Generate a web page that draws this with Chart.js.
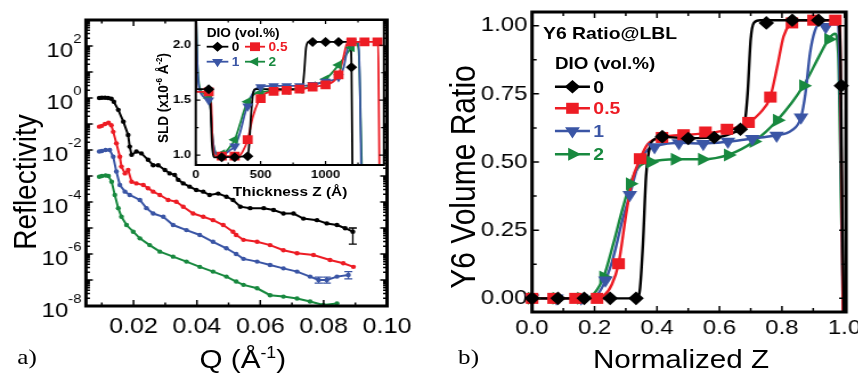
<!DOCTYPE html>
<html><head><meta charset="utf-8">
<script src="https://cdn.jsdelivr.net/npm/chart.js@4.4.1/dist/chart.umd.min.js"></script>
<style>
html,body{margin:0;padding:0;background:#fff;overflow:hidden;width:858px;height:375px;}
#wrap{position:absolute;left:0;top:0;width:753px;height:375px;transform:scaleX(1.14);transform-origin:0 0;}
canvas{position:absolute;left:0;top:0;}
.t{position:absolute;white-space:nowrap;line-height:1;font-family:"Liberation Sans",Arial,sans-serif;color:#000;}
.c{transform:translate(-50%,-50%);}
.r{transform:translate(-50%,-50%) rotate(-90deg);}
.l{transform:translate(0,-50%);}
.b{font-weight:bold;}
.s{font-family:"Liberation Serif","Times New Roman",serif;}
sup{font-size:60%;vertical-align:super;line-height:0;}
</style></head>
<body><div id="wrap">
<canvas id="cMain" width="753" height="375"></canvas>
<canvas id="cInset" width="753" height="375"></canvas>
<canvas id="cRight" width="753" height="375"></canvas>
<svg id="lg" width="753" height="375" style="position:absolute;left:0;top:0;overflow:visible"></svg>
<div class="t r" style="left:22.6px;top:182px;font-size:28px">Reflectivity</div>
<div class="t c" style="left:213px;top:359px;font-size:26px">Q (Å<sup>-1</sup>)</div>
<div class="t c s" style="left:23.7px;top:357px;font-size:22px">a)</div>
<div class="t r" style="left:407px;top:177px;font-size:30px">Y6 Volume Ratio</div>
<div class="t c" style="left:597.4px;top:359px;font-size:26px">Normalized Z</div>
<div class="t c s" style="left:411px;top:357px;font-size:22px">b)</div>
<div class="t r b" style="left:143px;top:98px;font-size:13.5px">SLD (x10<sup>-6</sup> Å<sup>-2</sup>)</div>
<div class="t c b" style="left:254.4px;top:192px;font-size:13.5px">Thickness Z (Å)</div>
<div class="t l b" style="left:181.3px;top:33.3px;font-size:12px">DIO (vol.%)</div>
<div class="t l b" style="left:476.3px;top:33px;font-size:17px">Y6 Ratio@LBL</div>
<div class="t l b" style="left:486.8px;top:63.3px;font-size:16.5px">DIO (vol.%)</div>
</div>
<script>
// ---------------- DATA ----------------
const seriesNames = ['0', '0.5', '1', '2'];
const seriesColors = ['#000000', '#ED1C24', '#3A55A5', '#18893F'];

// (a) reflectivity curves: Q (1/Å) and reflectivity
const qBlack = [0.0092,0.0100,0.0110,0.0120,0.0130,0.0138,0.0152,0.0168,0.0183,0.0188,0.0194,0.0209,0.0225,0.0246,0.0262,0.0278,0.0299,0.0314,0.0330,0.0341,0.0357,0.0377,0.0398,0.0420,0.0440,0.0467,0.0493,0.0514,0.0537,0.0568,0.0611,0.0642,0.0673,0.0705,0.0736,0.0779,0.0810,0.0842,0.0868,0.0892];
const rBlack = [1.0,1.02,1.02,1.0,0.93,0.72,0.35,0.123,0.038,0.0135,0.0065,0.0087,0.0074,0.0042,0.0026,0.0026,0.0017,0.00126,0.0011,0.00071,0.00052,0.00039,0.00029,0.00025,0.000186,0.00021,0.00016,0.00012,6.6e-5,5.8e-5,5.8e-5,4.9e-5,3.6e-5,3.6e-5,2.3e-5,2.0e-5,1.5e-5,1.3e-5,9.8e-6,7.2e-6];
const qRed = [0.0092,0.0100,0.0110,0.0121,0.0130,0.0136,0.0146,0.0157,0.0162,0.0173,0.0183,0.0194,0.0209,0.0231,0.0246,0.0262,0.0283,0.0309,0.0335,0.0357,0.0388,0.0420,0.0451,0.0483,0.0514,0.0524,0.0547,0.0590,0.0631,0.0673,0.0716,0.0768,0.0820,0.0862,0.0894];
const rRed = [0.079,0.085,0.10,0.112,0.09,0.05,0.018,0.0055,0.0023,0.00126,0.0017,0.0006,0.00052,0.00045,0.00034,0.00025,0.000186,0.00012,0.000102,6.6e-5,3.6e-5,2.7e-5,2.0e-5,1.3e-5,7.2e-6,5.4e-6,3.5e-6,2.95e-6,2.2e-6,1.4e-6,1.07e-6,9.1e-7,5.9e-7,4.4e-7,3.2e-7];
const qBlue = [0.0092,0.0100,0.0112,0.0125,0.0136,0.0146,0.0157,0.0173,0.0188,0.0220,0.0241,0.0262,0.0294,0.0325,0.0367,0.0409,0.0451,0.0493,0.0524,0.0547,0.0590,0.0631,0.0673,0.0716,0.0757,0.0784,0.0810,0.0842,0.0878];
const rBlue = [0.0087,0.0092,0.0100,0.0100,0.0055,0.00148,0.00045,0.00025,0.000186,0.00012,5.8e-5,3.6e-5,2.7e-5,1.3e-5,8.3e-6,5.4e-6,2.95e-6,1.66e-6,1.0e-6,6.5e-7,5.1e-7,3.8e-7,2.8e-7,2.1e-7,1.35e-7,1.0e-7,1.0e-7,1.35e-7,1.55e-7];
const qGreen = [0.0092,0.0100,0.0112,0.0121,0.0131,0.0141,0.0152,0.0162,0.0178,0.0199,0.0220,0.0251,0.0283,0.0325,0.0367,0.0409,0.0451,0.0493,0.0524,0.0547,0.0590,0.0631,0.0673,0.0716,0.0757,0.0799,0.0842];
const rGreen = [0.00093,0.0010,0.00105,0.0010,0.0006,0.000186,5.8e-5,2.7e-5,1.3e-5,7.2e-6,4.0e-6,2.2e-6,1.23e-6,7.9e-7,5.1e-7,3.2e-7,2.1e-7,1.35e-7,8.7e-8,6.5e-8,4.8e-8,2.6e-8,2.3e-8,1.95e-8,1.48e-8,1.1e-8,1.26e-8];
// error bars: series index, Q, low, high
const errSeries = [0, 2, 2, 2];
const errQ = [0.0892, 0.0784, 0.0810, 0.0878];
const errLo = [2.4e-6, 7.6e-8, 7.6e-8, 1.1e-7];
const errHi = [1.0e-5, 1.3e-7, 1.3e-7, 2.1e-7];
const qTicks = [0.02, 0.04, 0.06, 0.08, 0.10];
const qTickLabels = ['0.02', '0.04', '0.06', '0.08', '0.10'];
const rTickExps = [-8, -6, -4, -2, 0, 2];

// inset: SLD profiles, thickness (Å) and SLD (x1e-6 Å^-2)
const tBlackLine = [0,2,100,112,125,140,400,412,425,440,455,500,820,835,850,870,1190,1200,1207];
const sBlackLine = [2.4,1.6,1.6,1.5,1.1,0.98,0.99,1.1,1.35,1.55,1.6,1.6,1.6,1.75,1.98,2.03,2.03,1.8,0.85];
const tRedLine = [0,2,110,120,130,145,160,330,360,400,440,480,520,600,800,900,1000,1060,1100,1130,1160,1180,1405,1410,1415];
const sRedLine = [2.4,1.575,1.575,1.45,1.1,1.0,0.99,0.99,1.03,1.14,1.35,1.48,1.55,1.58,1.6,1.62,1.64,1.67,1.73,1.85,2.0,2.03,2.03,1.5,0.85];
const tBlueLine = [0,15,40,100,115,130,150,170,220,270,300,340,380,420,460,500,600,800,900,1000,1100,1140,1170,1200,1255,1265,1275];
const sBlueLine = [2.4,1.75,1.56,1.5,1.42,1.15,1.02,1.0,1.01,1.05,1.08,1.2,1.38,1.52,1.6,1.62,1.63,1.63,1.64,1.67,1.71,1.8,1.97,2.03,2.03,1.6,0.85];
const tGreenLine = [0,12,35,100,115,130,150,170,220,260,300,340,380,420,460,500,600,800,900,1000,1100,1150,1200,1235,1255,1265,1280];
const sGreenLine = [2.4,1.85,1.6,1.52,1.42,1.15,1.03,1.01,1.02,1.07,1.14,1.28,1.43,1.52,1.56,1.57,1.59,1.6,1.63,1.69,1.82,1.9,1.98,2.02,1.95,1.6,0.85];
const tBlackPts = [100,200,300,400,900,1000,1100,1200];
const sBlackPts = [1.6,0.98,0.98,0.99,2.03,2.03,2.03,1.8];
const tRedPts = [100,200,300,400,500,600,700,800,900,1000,1100,1200,1300,1400];
const sRedPts = [1.575,0.99,0.99,1.14,1.515,1.58,1.59,1.6,1.62,1.64,1.73,2.03,2.03,2.03];
const tBluePts = [100,200,300,400,500,600,700,800,900,1000,1100,1200];
const sBluePts = [1.5,1.0,1.08,1.445,1.62,1.63,1.63,1.63,1.64,1.67,1.71,2.03];
const tGreenPts = [100,200,300,400,500,600,700,800,900,1000,1100,1200];
const sGreenPts = [1.52,1.01,1.14,1.485,1.57,1.59,1.59,1.6,1.63,1.69,1.82,1.98];
const tTicks = [0, 500, 1000];
const tTickLabels = ['0', '500', '1000'];
const sldTicks = [1.0, 1.5, 2.0];
const sldTickLabels = ['1.0', '1.5', '2.0'];

// (b) Y6 volume ratio vs normalized Z
const zBlackLine = [0,0.335,0.345,0.355,0.365,0.378,0.395,0.42,0.5,0.6,0.66,0.68,0.69,0.70,0.71,0.73,0.98,0.988,0.993,0.998];
const vBlackLine = [0,0,0.03,0.2,0.45,0.56,0.585,0.592,0.587,0.592,0.615,0.64,0.75,0.95,1.01,1.02,1.02,0.85,0.3,-0.05];
const zRedLine = [0,0.2,0.23,0.255,0.277,0.3,0.32,0.346,0.37,0.416,0.5,0.6,0.693,0.73,0.763,0.785,0.805,0.825,0.85,0.985,0.99,0.995];
const vRedLine = [0,0,0.01,0.05,0.127,0.3,0.43,0.512,0.565,0.59,0.6,0.612,0.645,0.68,0.74,0.85,0.96,1.005,1.02,1.02,0.5,-0.05];
const zBlueLine = [0,0.18,0.21,0.235,0.26,0.29,0.313,0.34,0.37,0.4,0.47,0.55,0.63,0.7,0.78,0.83,0.861,0.875,0.89,0.905,0.92,0.98,0.988,0.995];
const vBlueLine = [0,0,0.015,0.066,0.15,0.29,0.38,0.49,0.545,0.56,0.57,0.568,0.575,0.585,0.598,0.615,0.664,0.75,0.9,0.98,1.005,1.005,0.6,-0.05];
const zGreenLine = [0,0.17,0.2,0.229,0.26,0.29,0.314,0.34,0.38,0.46,0.545,0.628,0.71,0.785,0.869,0.92,0.949,0.97,0.98,0.99,0.997];
const vGreenLine = [0,0,0.02,0.078,0.2,0.33,0.42,0.48,0.5,0.51,0.51,0.526,0.575,0.653,0.78,0.89,0.95,0.97,0.9,0.3,-0.05];
const zBlackPts = [0,0.083,0.167,0.25,0.333,0.417,0.5,0.583,0.667,0.75,0.833,0.917,0.99];
const vBlackPts = [0,0,0,0,0,0.593,0.586,0.59,0.62,1.01,1.02,1.02,0.78];
const zRedPts = [0,0.069,0.139,0.208,0.277,0.346,0.416,0.485,0.555,0.624,0.693,0.763,0.832,0.901,0.971];
const vRedPts = [0,0,0,0,0.127,0.512,0.59,0.6,0.61,0.62,0.645,0.738,1.01,1.02,1.02];
const zBluePts = [0,0.078,0.157,0.235,0.313,0.392,0.47,0.548,0.627,0.705,0.783,0.861,0.94];
const vBluePts = [0,0,0,0.066,0.38,0.555,0.57,0.567,0.575,0.585,0.597,0.664,0.995];
const zGreenPts = [0,0.079,0.158,0.229,0.314,0.38,0.458,0.545,0.628,0.71,0.785,0.869,0.949];
const vGreenPts = [0,0,0,0.078,0.42,0.5,0.51,0.51,0.526,0.575,0.653,0.78,0.95];
const zTicks = [0, 0.2, 0.4, 0.6, 0.8, 1.0];
const zTickLabels = ['0.0', '0.2', '0.4', '0.6', '0.8', '1.0'];
const vTicks = [0, 0.25, 0.5, 0.75, 1.0];
const vTickLabels = ['0.00', '0.25', '0.50', '0.75', '1.00'];

// ---------------- HELPERS ----------------
const CW = 753, CH = 375;
const FAM = '"Liberation Sans", Arial, sans-serif';
const pts = (xs, ys) => xs.map((x, i) => ({x: x, y: ys[i]}));

function linScale(axis, min, max, ticks, labels, font, pad, size) {
  return {
    type: 'linear', min: min, max: max,
    grid: {display: false, drawTicks: false}, border: {display: false},
    afterBuildTicks: s => { s.ticks = ticks.map(v => ({value: v})); },
    ticks: {callback: (v, i) => labels[i], font: font, color: '#000', padding: pad, maxRotation: 0, autoSkip: false},
    afterFit: s => { if (axis === 'x') s.height = size; else s.width = size;
      s.paddingLeft = 0; s.paddingRight = 0; s.paddingTop = 0; s.paddingBottom = 0; }
  };
}
function pad(area, yW, xH) {
  return {left: area.l - yW, right: CW - area.r, top: area.t, bottom: CH - area.b - xH};
}
function framePlugin(cfg) {
  return {
    id: 'frame',
    beforeDatasetsDraw(chart) {
      if (!cfg.fill) return;
      const a = chart.chartArea, ctx = chart.ctx;
      ctx.save(); ctx.fillStyle = cfg.fill;
      ctx.fillRect(a.left, a.top, a.right - a.left, a.bottom - a.top); ctx.restore();
    },
    afterDraw(chart) {
      const a = chart.chartArea, ctx = chart.ctx, xs = chart.scales.x, ys = chart.scales.y;
      ctx.save(); ctx.strokeStyle = '#000'; ctx.lineWidth = cfg.tw;
      ctx.beginPath();
      const xt = (vals, len) => vals.forEach(v => { const p = xs.getPixelForValue(v);
        ctx.moveTo(p, a.bottom); ctx.lineTo(p, a.bottom - len); ctx.moveTo(p, a.top); ctx.lineTo(p, a.top + len); });
      const yt = (vals, len) => vals.forEach(v => { const p = ys.getPixelForValue(v);
        ctx.moveTo(a.left, p); ctx.lineTo(a.left + len, p); ctx.moveTo(a.right, p); ctx.lineTo(a.right - len, p); });
      xt(cfg.xMaj, cfg.maj); xt(cfg.xMin, cfg.min); yt(cfg.yMaj, cfg.maj); yt(cfg.yMin, cfg.min);
      ctx.stroke();
      ctx.lineWidth = cfg.lw;
      ctx.strokeRect(a.left, a.top, a.right - a.left, a.bottom - a.top);
      ctx.restore();
    }
  };
}
const baseOpts = (padding, scales, extra) => Object.assign({
  responsive: false, animation: false, devicePixelRatio: 1, events: [],
  layout: {padding: padding},
  plugins: {legend: {display: false}, tooltip: {enabled: false}},
  scales: scales
}, extra || {});

// ---------------- (a) MAIN ----------------
const aMain = {l: 75.4, r: 339.5, t: 20, b: 306};
const qData = [[qBlack, rBlack], [qRed, rRed], [qBlue, rBlue], [qGreen, rGreen]];
const logMaj = [], logMin = [];
for (let e = -8; e <= 3; e++) { logMaj.push(Math.pow(10, e)); if (e < 3) for (let m = 2; m <= 9; m++) logMin.push(m * Math.pow(10, e)); }
const logLabelPlugin = {
  id: 'logLabels',
  afterDraw(chart) {
    const ctx = chart.ctx, ys = chart.scales.y, a = chart.chartArea;
    ctx.save(); ctx.fillStyle = '#000'; ctx.textAlign = 'right'; ctx.textBaseline = 'alphabetic';
    rTickExps.forEach(e => {
      const py = ys.getPixelForValue(Math.pow(10, e));
      const sup = String(e);
      ctx.font = '13px ' + FAM;
      const sw = ctx.measureText(sup).width;
      const xr = a.left - 4;
      ctx.fillText(sup, xr, py - 3);
      ctx.font = '21px ' + FAM;
      ctx.fillText('10', xr - sw, py + 10.5);
    });
    ctx.restore();
  }
};
const errPlugin = {
  id: 'errBars',
  afterDatasetsDraw(chart) {
    const ctx = chart.ctx, xs = chart.scales.x, ys = chart.scales.y;
    ctx.save(); ctx.lineWidth = 1.3;
    errQ.forEach((q, i) => {
      const px = xs.getPixelForValue(q), p1 = ys.getPixelForValue(errLo[i]), p2 = ys.getPixelForValue(errHi[i]);
      ctx.strokeStyle = seriesColors[errSeries[i]];
      ctx.beginPath(); ctx.moveTo(px, p1); ctx.lineTo(px, p2);
      ctx.moveTo(px - 3.5, p1); ctx.lineTo(px + 3.5, p1); ctx.moveTo(px - 3.5, p2); ctx.lineTo(px + 3.5, p2);
      ctx.stroke();
    });
    ctx.restore();
  }
};
new Chart(document.getElementById('cMain'), {
  type: 'scatter',
  data: {datasets: qData.map((d, i) => ({
    data: pts(d[0], d[1]), showLine: true, borderColor: seriesColors[i], backgroundColor: seriesColors[i],
    borderWidth: 2, pointRadius: 2.2, pointBorderWidth: 0, pointStyle: 'circle'
  }))},
  options: baseOpts(pad(aMain, 50, 40), {
    x: linScale('x', 0.005, 0.1, qTicks, qTickLabels, {family: FAM, size: 22}, 8, 40),
    y: {type: 'logarithmic', min: 1e-8, max: 1e3, grid: {display: false, drawTicks: false}, border: {display: false},
        ticks: {display: false},
        afterFit: s => { s.width = 50; s.paddingTop = 0; s.paddingBottom = 0; }}
  }),
  plugins: [framePlugin({lw: 3, tw: 1.5, maj: 6, min: 3.5,
    xMaj: qTicks, xMin: [0.01, 0.03, 0.05, 0.07, 0.09], yMaj: logMaj, yMin: logMin}), logLabelPlugin, errPlugin]
});

// ---------------- INSET ----------------
const aIn = {l: 171.7, r: 336.8, t: 20, b: 165};
const inLines = [[tBlackLine, sBlackLine], [tRedLine, sRedLine], [tBlueLine, sBlueLine], [tGreenLine, sGreenLine]];
const inPts = [[tBlackPts, sBlackPts], [tRedPts, sRedPts], [tBluePts, sBluePts], [tGreenPts, sGreenPts]];
const inStyles = [['rectRot', 0, 5], ['rect', 0, 6.2], ['triangle', 180, 5.5], ['triangle', 270, 5.5]];
const boldSmall = {family: FAM, size: 11.5, weight: 'bold'};
new Chart(document.getElementById('cInset'), {
  type: 'scatter',
  data: {datasets: [
    ...inPts.map((d, i) => ({data: pts(d[0], d[1]), showLine: false, pointStyle: inStyles[i][0], pointRotation: inStyles[i][1],
      pointRadius: inStyles[i][2], backgroundColor: seriesColors[i], borderColor: seriesColors[i], pointBorderWidth: 0})),
    ...inLines.map((d, i) => ({data: pts(d[0], d[1]), showLine: true, pointRadius: 0, borderColor: seriesColors[i],
      borderWidth: 1.8, cubicInterpolationMode: 'monotone'}))
  ]},
  options: baseOpts(pad(aIn, 30, 20), {
    x: linScale('x', 0, 1450, tTicks, tTickLabels, boldSmall, 3, 20),
    y: linScale('y', 0.91, 2.23, sldTicks, sldTickLabels, boldSmall, 4, 30)
  }),
  plugins: [framePlugin({fill: '#fff', lw: 2, tw: 1.2, maj: 4, min: 2.5,
    xMaj: tTicks, xMin: [250, 750, 1250], yMaj: sldTicks, yMin: [1.25, 1.75]})]
});

// ---------------- (b) RIGHT ----------------
const aR = {l: 466.7, r: 742.1, t: 12, b: 312};
const zLines = [[zBlackLine, vBlackLine], [zRedLine, vRedLine], [zBlueLine, vBlueLine], [zGreenLine, vGreenLine]];
const zPts = [[zBlackPts, vBlackPts], [zRedPts, vRedPts], [zBluePts, vBluePts], [zGreenPts, vGreenPts]];
const rStyles = [['rectRot', 0, 6.8], ['rect', 0, 7.8], ['triangle', 180, 7.5], ['triangle', 90, 7.5]];
const big = {family: FAM, size: 21};
new Chart(document.getElementById('cRight'), {
  type: 'scatter',
  data: {datasets: [
    ...zPts.map((d, i) => ({data: pts(d[0], d[1]), showLine: false, pointStyle: rStyles[i][0], pointRotation: rStyles[i][1],
      pointRadius: rStyles[i][2], backgroundColor: seriesColors[i], borderColor: seriesColors[i], pointBorderWidth: 0, clip: false})),
    ...zLines.map((d, i) => ({data: pts(d[0], d[1]), showLine: true, pointRadius: 0, borderColor: seriesColors[i],
      borderWidth: 2.4, cubicInterpolationMode: 'monotone'}))
  ]},
  options: baseOpts(pad(aR, 60, 40), {
    x: linScale('x', 0, 1.005, zTicks, zTickLabels, big, 4, 40),
    y: linScale('y', -0.05, 1.05, vTicks, vTickLabels, big, 4, 60)
  }),
  plugins: [framePlugin({lw: 3, tw: 1.5, maj: 6, min: 4,
    xMaj: zTicks, xMin: [0.1, 0.3, 0.5, 0.7, 0.9], yMaj: vTicks, yMin: [0.125, 0.375, 0.625, 0.875]})]
});

// ---------------- LEGENDS (svg symbols + html text) ----------------
function shapePath(shape, cx, cy, r) {
  const s = Math.sin(Math.PI / 3) * r;
  if (shape === 'diamond') return `M${cx - r},${cy}L${cx},${cy - r}L${cx + r},${cy}L${cx},${cy + r}Z`;
  if (shape === 'square') { const h = r * Math.SQRT1_2; return `M${cx - h},${cy - h}h${2 * h}v${2 * h}h${-2 * h}Z`; }
  if (shape === 'down') return `M${cx},${cy + r}L${cx - s},${cy - r / 2}L${cx + s},${cy - r / 2}Z`;
  if (shape === 'right') return `M${cx + r},${cy}L${cx - r / 2},${cy - s}L${cx - r / 2},${cy + s}Z`;
  if (shape === 'left') return `M${cx - r},${cy}L${cx + r / 2},${cy - s}L${cx + r / 2},${cy + s}Z`;
}
const svg = document.getElementById('lg');
const wrap = document.getElementById('wrap');
let svgHtml = '';
function legendRow(x1, x2, y, shape, r, lw, color, label, fontSize) {
  svgHtml += `<line x1="${x1}" y1="${y}" x2="${x2}" y2="${y}" stroke="${color}" stroke-width="${lw}"/>`;
  svgHtml += `<path d="${shapePath(shape, (x1 + x2) / 2, y, r)}" fill="${color}"/>`;
  const d = document.createElement('div');
  d.className = 't l b';
  d.style.left = (x2 + 3) + 'px'; d.style.top = y + 'px'; d.style.fontSize = fontSize + 'px'; d.style.color = color;
  d.textContent = label;
  wrap.appendChild(d);
}
// inset legend
const inShapes = ['diamond', 'square', 'down', 'left'];
const inLegX = [[181.3, 200.3], [214.9, 232.5], [181.3, 200.3], [214.9, 232.5]];
const inLegY = [46.7, 46.7, 61.7, 61.7];
const inLegR = [5, 6.2, 5.5, 5.5];
seriesNames.forEach((n, i) => legendRow(inLegX[i][0], inLegX[i][1], inLegY[i], inShapes[i], inLegR[i], 1.8, seriesColors[i], n, 12));
// right legend
const rShapes = ['diamond', 'square', 'down', 'right'];
const rLegY = [86.7, 108.3, 131, 154.3];
const rLegR = [6.8, 7.8, 7.5, 7.5];
seriesNames.forEach((n, i) => legendRow(486.8, 517.5, rLegY[i], rShapes[i], rLegR[i], 2.4, seriesColors[i], n, 17));
svg.innerHTML = svgHtml;
</script>
</body></html>
